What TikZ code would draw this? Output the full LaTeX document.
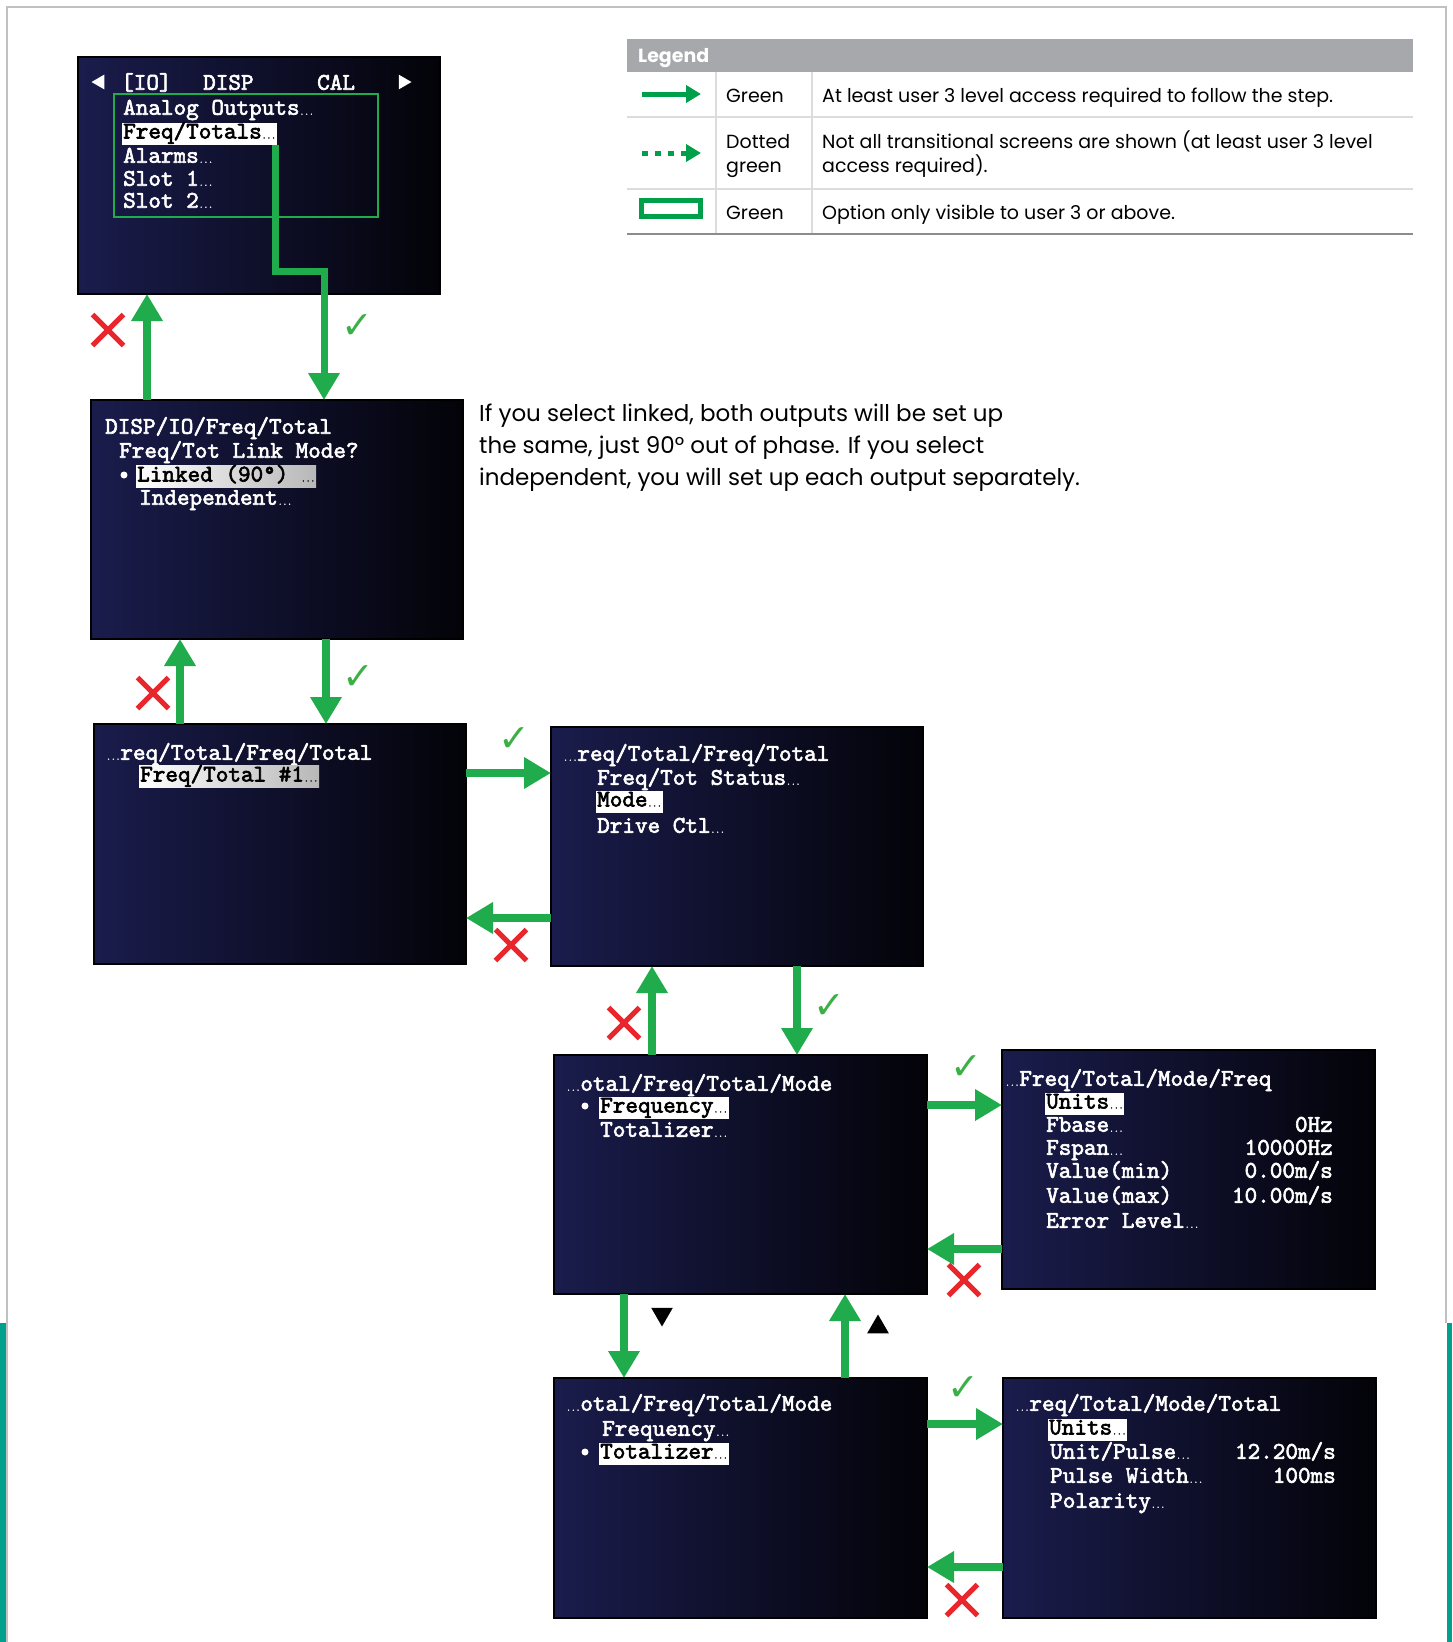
\documentclass[tikz,border=0pt]{standalone}
\usepackage{fontspec}
\setmainfont{Poppins}
\newfontfamily\dejavu{DejaVu Sans}
\newfontfamily\scrf{lmmono10-regular.otf}[FakeBold=2.5]
\usetikzlibrary{arrows.meta,shapes.geometric,shapes.misc,calc}
\definecolor{garw}{RGB}{32,172,76}
\definecolor{lgr}{RGB}{0,160,75}
\definecolor{chkg}{RGB}{60,176,70}
\definecolor{redx}{RGB}{234,38,45}
\definecolor{tealbar}{RGB}{0,160,140}
\definecolor{bgray}{RGB}{192,192,192}
\definecolor{hdrgray}{RGB}{166,168,171}
\definecolor{rulegray}{RGB}{220,220,220}
\definecolor{scrL}{RGB}{26,28,76}
\definecolor{scrM}{RGB}{15,16,44}
\definecolor{scrR}{RGB}{3,3,8}
\newcommand\scrfont{\scrf\fontsize{24}{24}\selectfont}
\newcommand\dts{{\fontsize{9}{9}\selectfont...}}
\begin{document}
\begin{tikzpicture}[x=1pt,y=-1pt,
  screen/.style={anchor=north west, inner sep=0, outer sep=0, draw=black, line width=1.5,
     left color=scrL, middle color=scrM, right color=scrR},
  stxt/.style={font=\scrfont, text=white, anchor=mid west, inner sep=0, yshift=-5pt},
  sval/.style={font=\scrfont, text=white, anchor=mid east, inner sep=0, yshift=-5pt},
  hl/.style={font=\scrfont, text=black, fill=white, anchor=west, inner xsep=1, inner ysep=1,
     text height=15, text depth=5, yshift=-1.5pt},
  hlg/.style={hl, left color=white, right color=black!28},
  garrow/.style={draw=garw, line width=8, -{Triangle[width=30pt,length=27pt]}},
  rx/.style={cross out, draw=redx, line width=5, minimum size=26, inner sep=0},
  chk/.style={font=\dejavu\fontsize{38}{38}\selectfont, text=chkg, inner sep=0},
  tri/.style={regular polygon, regular polygon sides=3, fill=black, inner sep=0, minimum size=25},
  wtri/.style={regular polygon, regular polygon sides=3, fill=white, inner sep=0, minimum size=17},
  bul/.style={circle, fill=white, inner sep=0, minimum size=7},
  ltxt/.style={font=\fontsize{19}{22}\selectfont, anchor=mid west, inner sep=0, yshift=-4.5pt},
]
\useasboundingbox (0,0) rectangle (1452,1642);
% page frame
\fill[tealbar] (0,1323) rectangle (6,1642);
\fill[tealbar] (1447,1323) rectangle (1452,1642);
\draw[bgray, line width=2] (7,1642) -- (7,7) -- (1446,7) -- (1446,1323);

% ---------- Legend ----------
\node[fill=hdrgray, anchor=north west, minimum width=786, minimum height=33, inner sep=0] (lhead) at (627,39) {};
\node[font=\bfseries\fontsize{19}{22}\selectfont, text=white, anchor=mid west, inner sep=0, yshift=-4.5pt] (lheadt) at (638,55) {Legend};
\draw[rulegray, line width=1.5] (627,117) -- (1413,117) (627,189) -- (1413,189);
\draw[rulegray, line width=1.5] (716,72) -- (716,234) (812,72) -- (812,234);
\draw[black!45, line width=2] (627,234) -- (1413,234);
\coordinate (la1) at (642,94); \coordinate (la2) at (701,94);
\draw[lgr, line width=5, -{Triangle[width=17pt,length=15pt]}] (la1) -- (la2);
\coordinate (lb1) at (642,153); \coordinate (lb2) at (701,153);
\draw[lgr, line width=5, dash pattern=on 6pt off 7pt, -{Triangle[width=17pt,length=15pt]}] (lb1) -- (lb2);
\draw[lgr, line width=5] (641.5,200.5) rectangle (700.5,216.5);
\node[ltxt] (lg1) at (726,95) {Green};
\node[ltxt] (lg2) at (726,141) {Dotted};
\node[ltxt] (lg3) at (726,165) {green};
\node[ltxt] (lg4) at (726,212) {Green};
\node[ltxt] (ld1) at (822,95) {At least user 3 level access required to follow the step.};
\node[ltxt] (ld2) at (822,141) {Not all transitional screens are shown (at least user 3 level};
\node[ltxt] (ld3) at (822,165) {access required).};
\node[ltxt] (ld4) at (822,212) {Option only visible to user 3 or above.};

% ---------- Paragraph ----------
\node[font=\fontsize{23}{32}\selectfont, anchor=north west, align=left, inner sep=0] (para) at (479,404)
 {If you select linked, both outputs will be set up\\the same, just 90° out of phase. If you select\\independent, you will set up each output separately.};

% ---------- Screens ----------
\node[screen, minimum width=362, minimum height=237] (s1) at (78,57) {};
\node[screen, minimum width=372, minimum height=239] (s2) at (91,400) {};
\node[screen, minimum width=372, minimum height=240] (s3) at (94,724) {};
\node[screen, minimum width=372, minimum height=239] (s4) at (551,727) {};
\node[screen, minimum width=373, minimum height=239] (s5) at (554,1055) {};
\node[screen, minimum width=373, minimum height=239] (s6) at (1002,1050) {};
\node[screen, minimum width=373, minimum height=240] (s7) at (554,1378) {};
\node[screen, minimum width=373, minimum height=240] (s8) at (1003,1378) {};

% screen 1
\node[wtri, shape border rotate=90] (t1l) at (100,82) {};
\node[wtri, shape border rotate=-90] (t1r) at (403,82) {};
\node[stxt] (s1h1) at (121,82) {[IO]};
\node[stxt] (s1h2) at (203,82) {DISP};
\node[stxt] (s1h3) at (317,82) {CAL};
\draw[garw, line width=2.5] (114,94) rectangle (378,217);
\node[stxt] (s1a) at (123,107) {Analog Outputs\dts};
\node[hl] (hl1) at (122,132) {Freq/Totals\dts};
\node[stxt] (s1c) at (123,155) {Alarms\dts};
\node[stxt] (s1d) at (123,178) {Slot 1\dts};
\node[stxt] (s1e) at (123,200) {Slot 2\dts};

% screen 2
\node[stxt] (s2a) at (105,426) {DISP/IO/Freq/Total};
\node[stxt] (s2b) at (119,450) {Freq/Tot Link Mode?};
\node[bul] (b2) at (124,475) {};
\node[hlg] (hl2) at (136,475) {Linked (90°) \dts};
\node[stxt] (s2d) at (139,497) {Independent\dts};

% screen 3
\node[stxt] (s3a) at (106,752) {\dts req/Total/Freq/Total};
\node[hlg] (hl3) at (139,775) {Freq/Total \#1\dts};

% screen 4
\node[stxt] (s4a) at (563,753) {\dts req/Total/Freq/Total};
\node[stxt] (s4b) at (597,777) {Freq/Tot Status\dts};
\node[hl] (hl4) at (596,800) {Mode\dts};
\node[stxt] (s4d) at (597,825) {Drive Ctl\dts};

% screen 5
\node[stxt] (s5a) at (566,1083) {\dts otal/Freq/Total/Mode};
\node[bul] (b5) at (585,1106) {};
\node[hl] (hl5) at (599,1106) {Frequency\dts};
\node[stxt] (s5c) at (600,1129) {Totalizer\dts};

% screen 6
\node[stxt] (s6a) at (1005,1078) {\dts Freq/Total/Mode/Freq};
\node[hl] (hl6) at (1045,1102) {Units\dts};
\node[stxt] (s6b) at (1046,1124) {Fbase\dts};
\node[sval] (s6bv) at (1333,1124) {0Hz};
\node[stxt] (s6c) at (1046,1147) {Fspan\dts};
\node[sval] (s6cv) at (1333,1147) {10000Hz};
\node[stxt] (s6d) at (1046,1170) {Value(min)};
\node[sval] (s6dv) at (1333,1170) {0.00m/s};
\node[stxt] (s6e) at (1046,1195) {Value(max)};
\node[sval] (s6ev) at (1333,1195) {10.00m/s};
\node[stxt] (s6f) at (1046,1220) {Error Level\dts};

% screen 7
\node[stxt] (s7a) at (566,1403) {\dts otal/Freq/Total/Mode};
\node[stxt] (s7b) at (602,1428) {Frequency\dts};
\node[bul] (b7) at (585,1452) {};
\node[hl] (hl7) at (599,1452) {Totalizer\dts};

% screen 8
\node[stxt] (s8a) at (1015,1403) {\dts req/Total/Mode/Total};
\node[hl] (hl8) at (1048,1428) {Units\dts};
\node[stxt] (s8b) at (1050,1451) {Unit/Pulse\dts};
\node[sval] (s8bv) at (1336,1451) {12.20m/s};
\node[stxt] (s8c) at (1050,1475) {Pulse Width\dts};
\node[sval] (s8cv) at (1336,1475) {100ms};
\node[stxt] (s8d) at (1050,1500) {Polarity\dts};

% ---------- Connectors ----------
\coordinate (ax1) at (147,0);
\draw[garrow] (s2.north -| ax1) -- (s1.south -| ax1);
\coordinate (p1) at (324,271);
\draw[garrow, line width=7] ([xshift=-2pt]hl1.south east) |- (p1) -- (s2.north -| p1);
\coordinate (ax2) at (180,0);
\draw[garrow] (s3.north -| ax2) -- (s2.south -| ax2);
\coordinate (ax3) at (326,0);
\draw[garrow] (s2.south -| ax3) -- (s3.north -| ax3);
\coordinate (ay1) at (0,773);
\draw[garrow] (s3.east |- ay1) -- (s4.west |- ay1);
\coordinate (ay2) at (0,918);
\draw[garrow] (s4.west |- ay2) -- (s3.east |- ay2);
\coordinate (ax4) at (652,0);
\draw[garrow] (s5.north -| ax4) -- (s4.south -| ax4);
\coordinate (ax5) at (797,0);
\draw[garrow] (s4.south -| ax5) -- (s5.north -| ax5);
\coordinate (ay3) at (0,1105);
\draw[garrow] (s5.east |- ay3) -- (s6.west |- ay3);
\coordinate (ay4) at (0,1249);
\draw[garrow] (s6.west |- ay4) -- (s5.east |- ay4);
\coordinate (ax6) at (624,0);
\draw[garrow] (s5.south -| ax6) -- (s7.north -| ax6);
\coordinate (ax7) at (845,0);
\draw[garrow] (s7.north -| ax7) -- (s5.south -| ax7);
\coordinate (ay5) at (0,1424);
\draw[garrow] (s7.east |- ay5) -- (s8.west |- ay5);
\coordinate (ay6) at (0,1567);
\draw[garrow] (s8.west |- ay6) -- (s7.east |- ay6);

% marks
\node[rx] (x1) at (108,330) {};
\node[rx] (x2) at (153,693) {};
\node[rx] (x3) at (511,945) {};
\node[rx] (x4) at (624,1023) {};
\node[rx] (x5) at (964,1280) {};
\node[rx] (x6) at (962,1600) {};
\node[chk] (c1) at (357,327) {✓};
\node[chk] (c2) at (358,678) {✓};
\node[chk] (c3) at (514,740) {✓};
\node[chk] (c4) at (829,1007) {✓};
\node[chk] (c5) at (966,1068) {✓};
\node[chk] (c6) at (963,1389) {✓};
\node[tri, shape border rotate=180] (td) at (662,1314) {};
\node[tri] (tu) at (878,1327) {};
\end{tikzpicture}
\end{document}
